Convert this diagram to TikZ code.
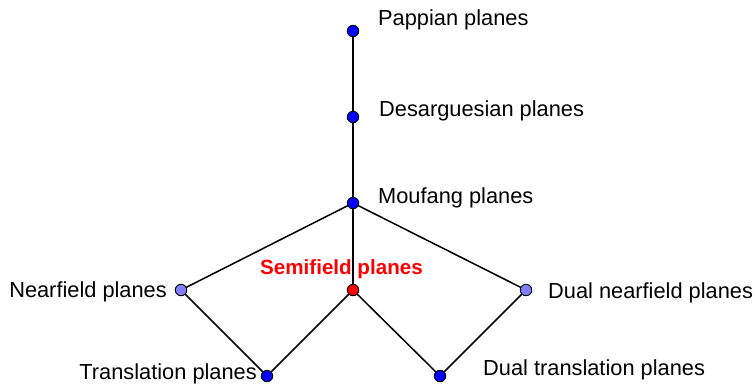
\documentclass[tikz,border=0pt]{standalone}
\usepackage{fontspec}
\setmainfont{Liberation Sans}
\begin{document}
\begin{tikzpicture}[x=1pt,y=-1pt,
  dot/.style={circle,draw=black,line width=0.9pt,minimum size=11.5pt,inner sep=0pt},
  lbl/.style={font=\fontsize{21.8}{24}\selectfont,inner sep=0pt},
  edge/.style={line width=1.5pt}]
\useasboundingbox (0,0) rectangle (755,384);
\definecolor{darkdot}{RGB}{0,0,255}
\definecolor{lightdot}{RGB}{128,128,255}
\definecolor{semired}{RGB}{255,0,0}
% vertices
\coordinate (p) at (353,31);
\coordinate (d) at (353,117);
\coordinate (m) at (353,203);
\coordinate (s) at (353,290);
\coordinate (n) at (181,290);
\coordinate (dn) at (526,290);
\coordinate (t) at (267,376);
\coordinate (dt) at (440,376);
% labels
\node[lbl,anchor=base west] (lp) at (378,25) {Pappian planes};
\node[lbl,anchor=base west] (ld) at (379,116) {Desarguesian planes};
\node[lbl,anchor=base west] (lm) at (378,203) {Moufang planes};
\node[lbl,anchor=base west,text=semired,font=\fontsize{20.6}{24}\selectfont\bfseries] (ls) at (260,274) {Semifield planes};
\node[lbl,anchor=base east] (ln) at (167,297) {Nearfield planes};
\node[lbl,anchor=base west] (ldn) at (548,298) {Dual nearfield planes};
\node[lbl,anchor=base east] (lt) at (257,379) {Translation planes};
\node[lbl,anchor=base west] (ldt) at (483,375) {Dual translation planes};
% edges
\draw[edge] (p) -- (d) -- (m) -- (s);
\draw[edge] (m) -- (n) -- (t) -- (s) -- (dt) -- (dn) -- (m);
% dots
\node[dot,fill=darkdot] at (p) {};
\node[dot,fill=darkdot] at (d) {};
\node[dot,fill=darkdot] at (m) {};
\node[dot,fill=semired] at (s) {};
\node[dot,fill=lightdot] at (n) {};
\node[dot,fill=lightdot] at (dn) {};
\node[dot,fill=darkdot] at (t) {};
\node[dot,fill=darkdot] at (dt) {};
\end{tikzpicture}
\end{document}
